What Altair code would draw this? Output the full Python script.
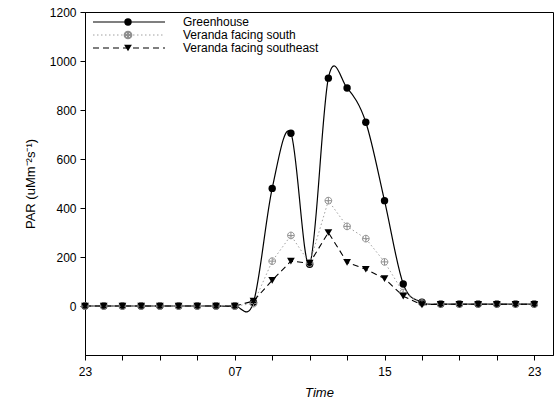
import altair as alt
import pandas as pd

# hours since 23:00 (0 = 23:00, 24 = 23:00 next day)
hours = list(range(25))
greenhouse = [0, 0, 0, 0, 0, 0, 0, 0, 0, 15, 480, 705, 170, 930, 890, 750, 430, 90, 15, 8, 8, 8, 8, 8, 8]
south = [0, 0, 0, 0, 0, 0, 0, 0, 0, 10, 183, 288, 175, 430, 325, 275, 180, 55, 12, 8, 8, 8, 8, 8, 8]
southeast = [0, 0, 0, 0, 0, 0, 0, 0, 0, 20, 105, 183, 175, 300, 178, 150, 112, 40, 5, 7, 7, 7, 7, 7, 7]

series_names = ["Greenhouse", "Veranda facing south", "Veranda facing southeast"]
x_tick_values = list(range(0, 25, 2))
x_tick_labels = {0: "23", 8: "07", 16: "15", 24: "23"}
y_tick_values = [0, 200, 400, 600, 800, 1000, 1200]

FONT = "Liberation Sans"
CROSS_CIRCLE = "M-1,0A1,1 0 1,0 1,0A1,1 0 1,0 -1,0ZM-1,0L1,0M0,-1L0,1"

label_expr = " : ".join(
    [f"datum.value == {k} ? '{v}'" for k, v in x_tick_labels.items()]
) + " : ''"

x_enc = alt.X(
    "t:Q",
    scale=alt.Scale(domain=[0, 25], nice=False, zero=False),
    axis=alt.Axis(
        values=x_tick_values, labelExpr=label_expr, title="Time",
        titleFontStyle="italic", titleFontWeight="normal", titleFontSize=13,
        titleFont=FONT, labelFont=FONT, labelFontSize=12, grid=False,
        tickSize=5, tickColor="black", domainColor="black", labelColor="black",
        titleColor="black", labelPadding=6, titlePadding=9, labelFlush=False,
        labelAngle=0,
    ),
)
y_enc_axis = alt.Axis(
    values=y_tick_values, format="d", title="PAR (uMm⁻²s⁻¹)", titleFontWeight="normal",
    titleFontSize=13, titleFont=FONT, labelFont=FONT, labelFontSize=12,
    grid=False, tickSize=5, tickColor="black", domainColor="black",
    labelColor="black", titleColor="black", labelPadding=4, titlePadding=12,
)
y_scale = alt.Scale(domain=[-200, 1200], nice=False, zero=False)


def y_enc(col):
    return alt.Y(f"{col}:Q", scale=y_scale, axis=y_enc_axis)


df = pd.DataFrame({"t": hours, "gh": greenhouse, "s": south, "se": southeast})
base = alt.Chart(df)

gh_line = base.mark_line(color="black", strokeWidth=1.2, interpolate="cardinal").encode(x=x_enc, y=y_enc("gh"))
gh_pts = base.mark_point(shape="circle", filled=True, color="black", size=55, opacity=1).encode(x=x_enc, y=y_enc("gh"))

s_line = base.mark_line(color="#a0a0a0", strokeWidth=1, strokeDash=[1.5, 2.5]).encode(x=x_enc, y=y_enc("s"))
s_pts = base.mark_point(shape=CROSS_CIRCLE, filled=False, color="#909090", size=45, strokeWidth=1, opacity=1).encode(x=x_enc, y=y_enc("s"))

se_line = base.mark_line(color="black", strokeWidth=1.1, strokeDash=[6, 4]).encode(x=x_enc, y=y_enc("se"))
se_pts = base.mark_point(shape="triangle-down", filled=True, color="black", size=60, opacity=1).encode(x=x_enc, y=y_enc("se"))

# manual legend (inside plot, top-left)
leg_df = pd.DataFrame({"name": series_names, "i": [0, 1, 2]})
leg = alt.Chart(leg_df).transform_calculate(ly="10 + 13*datum.i")
ly = alt.Y("ly:Q", scale=None)

leg_gh_line = leg.transform_filter("datum.i==0").mark_rule(color="black", strokeWidth=1.2).encode(x=alt.value(8), x2=alt.value(80), y=ly)
leg_s_line = leg.transform_filter("datum.i==1").mark_rule(color="#a0a0a0", strokeWidth=1, strokeDash=[1.5, 2.5]).encode(x=alt.value(8), x2=alt.value(80), y=ly)
leg_se_line = leg.transform_filter("datum.i==2").mark_rule(color="black", strokeWidth=1.1, strokeDash=[6, 4]).encode(x=alt.value(8), x2=alt.value(80), y=ly)
leg_gh_pt = leg.transform_filter("datum.i==0").mark_point(shape="circle", filled=True, color="black", size=55, opacity=1).encode(x=alt.value(43), y=ly)
leg_s_pt = leg.transform_filter("datum.i==1").mark_point(shape=CROSS_CIRCLE, filled=False, color="#909090", size=45, opacity=1).encode(x=alt.value(43), y=ly)
leg_se_pt = leg.transform_filter("datum.i==2").mark_point(shape="triangle-down", filled=True, color="black", size=60, opacity=1).encode(x=alt.value(43), y=ly)
leg_text = leg.mark_text(align="left", baseline="middle", font=FONT, fontSize=12, color="black").encode(
    x=alt.value(98), y=ly, text="name:N"
)

chart = alt.layer(
    gh_line, s_line, se_line, gh_pts, s_pts, se_pts,
    leg_gh_line, leg_s_line, leg_se_line, leg_gh_pt, leg_s_pt, leg_se_pt, leg_text,
).properties(
    width=468, height=343,
    autosize=alt.AutoSizeParams(type="none"),
    padding={"left": 85, "top": 12, "right": 6, "bottom": 53},
    background="white",
).configure_view(stroke="black", strokeWidth=1)

chart.save("out.html", embed_options={"renderer": "svg", "actions": False})
